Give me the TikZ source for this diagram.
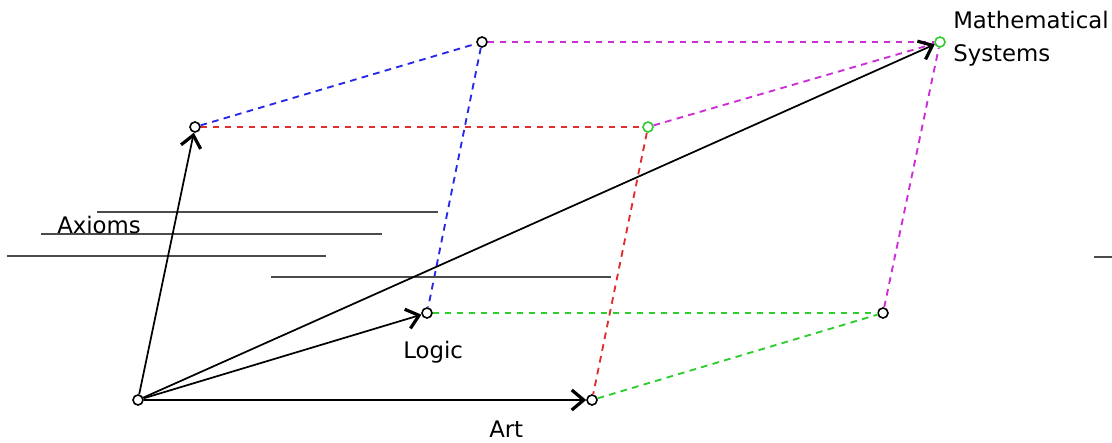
\documentclass[tikz,border=0pt]{standalone}
\usepackage{fontspec}
\setmainfont{DejaVu Sans}
\usetikzlibrary{arrows.meta}
\definecolor{cblue}{RGB}{40,40,235}
\definecolor{cred}{RGB}{225,45,45}
\definecolor{cgreen}{RGB}{45,205,45}
\definecolor{cmag}{RGB}{205,45,215}
\definecolor{cgray}{RGB}{75,75,75}
\tikzset{
  pt/.style={circle,draw=black,fill=white,line width=1.2pt,inner sep=0pt,minimum size=7.5pt},
  gpt/.style={pt,draw=cgreen},
  vec/.style={black,line width=1.3pt,-{Straight Barb[length=9pt,width=15pt,line width=2.4pt]}},
  dsh/.style={line width=1.4pt,dash pattern=on 5pt off 4pt},
  hl/.style={cgray,line width=2pt},
  lbl/.style={font=\fontsize{17.1}{20}\selectfont,inner sep=0pt}
}
\begin{document}
\begin{tikzpicture}[x=0.75pt,y=-0.75pt]
\useasboundingbox (0,0) rectangle (1112,442);
% points
\node[pt] (O) at (138,400) {};
\node[pt] (A) at (195,127) {};
\node[pt] (L) at (427,313) {};
\node[pt] (R) at (592,400) {};
\node[gpt] (M) at (940,42) {};
\node[pt] (P1) at (482,42) {};
\node[gpt] (P2) at (648,127) {};
\node[pt] (P3) at (883,313) {};
% dashed edges
\draw[dsh,cblue] (A) -- (P1);
\draw[dsh,cblue] (P1) -- (L);
\draw[dsh,cred] (A) -- (P2);
\draw[dsh,cred] (P2) -- (R);
\draw[dsh,cgreen] (L) -- (P3);
\draw[dsh,cgreen] (R) -- (P3);
\draw[dsh,cmag] (P1) -- (M);
\draw[dsh,cmag] (P2) -- (M);
\draw[dsh,cmag] (P3) -- (M);
% horizontal lines
\draw[hl] (97,212) -- (438,212);
\draw[hl] (41,234) -- (382,234);
\draw[hl] (7,256) -- (326,256);
\draw[hl] (271,277) -- (611,277);
\draw[hl] (1094,257) -- (1112,257);
% vectors
\draw[vec] (O) -- (A);
\draw[vec] (O) -- (L);
\draw[vec] (O) -- (R);
\draw[vec] (O) -- (M);
% labels
\node[lbl,anchor=base west] (tAx) at (57,233) {Axioms};
\node[lbl,anchor=base west] (tLo) at (403,358) {Logic};
\node[lbl,anchor=base west] (tArt) at (489,437) {Art};
\node[lbl,anchor=base west] (tM1) at (953,29) {Mathematical};
\node[lbl,anchor=base west] (tM2) at (953,62) {Systems};
\end{tikzpicture}
\end{document}
